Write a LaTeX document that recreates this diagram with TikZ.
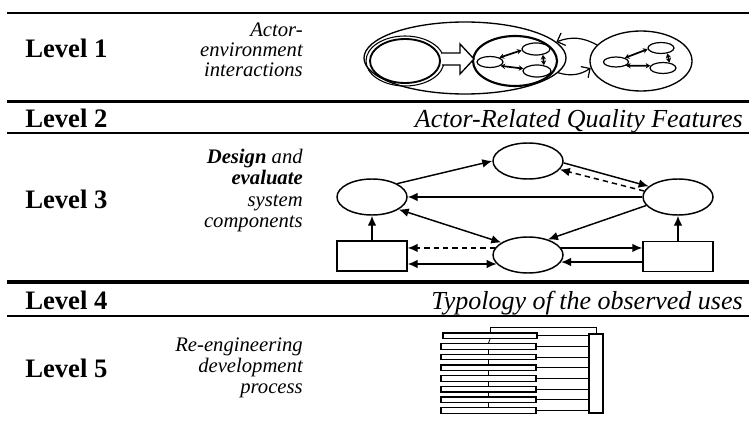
\documentclass[tikz,border=0pt]{standalone}
\usepackage{fontspec}
\setmainfont{Liberation Serif}
\usetikzlibrary{shapes.geometric,arrows.meta}
\begin{document}
\begin{tikzpicture}[x=0.75pt,y=-0.75pt,
  rulethin/.style={line width=1.9pt},
  rulethick/.style={line width=2.6pt},
  lvl/.style={font=\fontsize{20}{24}\selectfont\bfseries, inner sep=0pt, anchor=base west},
  hdr/.style={font=\fontsize{19.5}{23}\selectfont\itshape, inner sep=0pt, anchor=base east},
  desc/.style={font=\fontsize{15.5}{15}\selectfont\itshape, inner sep=0pt, anchor=east, align=right},
  ell/.style={ellipse, draw, inner sep=0pt, line width=1.1pt},
  sell/.style={ellipse, draw, inner sep=0pt, line width=0.9pt},
  boxn/.style={rectangle, draw, inner sep=0pt, line width=1.1pt, minimum width=52.5pt, minimum height=22.5pt},
  arr/.style={line width=1.1pt, -{Latex[length=7.5pt,width=6.5pt]}},
  darr/.style={line width=1.1pt, {Latex[length=7.5pt,width=6.5pt]}-{Latex[length=7.5pt,width=6.5pt]}},
  dasharr/.style={arr, dash pattern=on 4pt off 3pt},
  sarr/.style={line width=1.3pt, {Stealth[length=3.5pt,width=4pt]}-{Stealth[length=3.5pt,width=4pt]}},
  barb/.style={line width=0.9pt, -{Straight Barb[length=5pt,width=10pt]}},
  bar/.style={rectangle, draw, inner sep=0pt, line width=0.8pt, minimum width=71.25pt, minimum height=4.2pt},
  thinl/.style={line width=0.6pt}
]
\useasboundingbox (0,0) rectangle (749,424);

% rules
\draw[rulethin] (7,13) -- (749,13);
\draw[rulethick] (7,101.5) -- (749,101.5);
\draw[rulethin] (7,133) -- (749,133);
\draw[rulethick] (7,282) -- (749,282);
\draw[rulethin] (7,316) -- (749,316);

% level labels
\node[lvl] (l1) at (25,58) {Level 1};
\node[lvl] (l2) at (25,128) {Level 2};
\node[lvl] (l3) at (25,209) {Level 3};
\node[lvl] (l4) at (25,309) {Level 4};
\node[lvl] (l5) at (25,377) {Level 5};

% headers
\node[hdr] (h2) at (743,128) {Actor-Related Quality Features};
\node[hdr] (h4) at (743,309) {Typology of the observed uses};

% descriptions
\node[desc] (d1) at (303,49.5) {Actor-\\environment\\interactions};
\node[desc, font=\fontsize{15.5}{16}\selectfont\itshape] (d3) at (303,190.5) {\textbf{Design} and\\\textbf{evaluate}\\system\\components};
\node[desc, font=\fontsize{15.5}{15.75}\selectfont\itshape] (d5) at (303,368) {Re-engineering\\development\\process};

% ---------- Level 1 ----------
\node[ellipse, draw, inner sep=0pt, line width=1pt, minimum width=151.5pt, minimum height=54pt] (big) at (465,58) {};
\node[ellipse, draw, inner sep=0pt, line width=0.8pt, minimum width=58.5pt, minimum height=37.5pt] (dblo) at (405,61) {};
\node[ellipse, draw, inner sep=0pt, line width=1.4pt, minimum width=52.5pt, minimum height=33pt] (dbli) at (405,61) {};
\node[ellipse, draw, inner sep=0pt, line width=1.6pt, minimum width=63pt, minimum height=37.5pt] (mid) at (515,61) {};
\node[ellipse, draw, inner sep=0pt, line width=1pt, minimum width=76.5pt, minimum height=45pt] (rt) at (641,61) {};
\draw[line width=1pt, fill=white] (442,53) -- (460,53) -- (460,44) -- (474,59) -- (460,74) -- (460,65) -- (442,65);

\node[sell, minimum width=19.5pt, minimum height=8.25pt] (m1) at (490,62) {};
\node[sell, minimum width=21pt, minimum height=9pt] (m2) at (536,49) {};
\node[sell, minimum width=21pt, minimum height=9pt] (m3) at (537,71) {};
\draw[sarr] (m1.25) -- (m2.185);
\draw[sarr] (m1.-20) -- (m3.170);
\draw[sarr] (m2.-40) -- (m3.40);

\node[sell, minimum width=18.75pt, minimum height=7.5pt] (r1) at (616,62) {};
\node[sell, minimum width=19.5pt, minimum height=8.25pt] (r2) at (661,48) {};
\node[sell, minimum width=19.5pt, minimum height=8.25pt] (r3) at (663,68) {};
\draw[sarr] (r1.25) -- (r2.185);
\draw[sarr] (r1.-20) -- (r3.170);
\draw[sarr] (r2.-40) -- (r3.40);

\draw[barb] (rt.160) to[bend right=25] (big.10);
\draw[barb] (big.-9) to[bend right=25] (rt.188);

% ---------- Level 3 ----------
\node[ell, minimum width=52.5pt, minimum height=27pt] (T) at (528,161) {};
\node[ell, minimum width=52.5pt, minimum height=27pt] (L) at (372,197) {};
\node[ell, minimum width=52.5pt, minimum height=27pt] (R) at (678,197) {};
\node[ell, minimum width=52.5pt, minimum height=27pt] (B) at (528,255) {};
\node[boxn] (LB) at (372,256) {};
\node[boxn] (RB) at (678,256.5) {};

\draw[arr] (L.28) -- (T.west);
\draw[arr] (T.-3) -- (R.160);
\draw[dasharr] (R.170) -- (T.-15);
\draw[arr] (R.west) -- (L.east);
\draw[darr] (L.-25) -- (B.155);
\draw[arr] (R.195) -- (B.38);
\draw[arr] (LB.north) -- (L.south);
\draw[arr] (RB.north) -- (R.south);
\draw[dasharr] (B.168) -- (B.168 -| LB.east);
\draw[darr] (B.196 -| LB.east) -- (B.196);
\draw[arr] (B.12) -- (B.12 -| RB.west);
\draw[arr] (B.-12 -| RB.west) -- (B.-12);

% ---------- Level 5 ----------
\node[bar, minimum width=70.5pt] (b1) at (490,335.8) {};
\node[bar] (b2) at (488.5,346.5) {};
\node[bar] (b3) at (488.5,357.1) {};
\node[bar] (b4) at (488.5,367.8) {};
\node[bar] (b5) at (488.5,378.5) {};
\node[bar] (b6) at (488.5,389.2) {};
\node[bar] (b7) at (488.5,399.8) {};
\node[bar] (b8) at (488.5,410.5) {};
\node[rectangle, draw, inner sep=0pt, line width=0.8pt, minimum width=10.5pt, minimum height=59.25pt] (tall) at (596,373.5) {};
\draw[thinl] (b1.north) -- ++(0,-5.5) -| (tall.north);
\foreach \i/\j in {1/2,2/3,3/4,4/5,5/6,6/7,7/8}{
  \draw[thinl] (b\i.south) -- (b\j.north);
}
\foreach \i in {1,...,8}{
  \draw[thinl] (b\i.east) -- (b\i.east -| tall.west);
}
\end{tikzpicture}
\end{document}
